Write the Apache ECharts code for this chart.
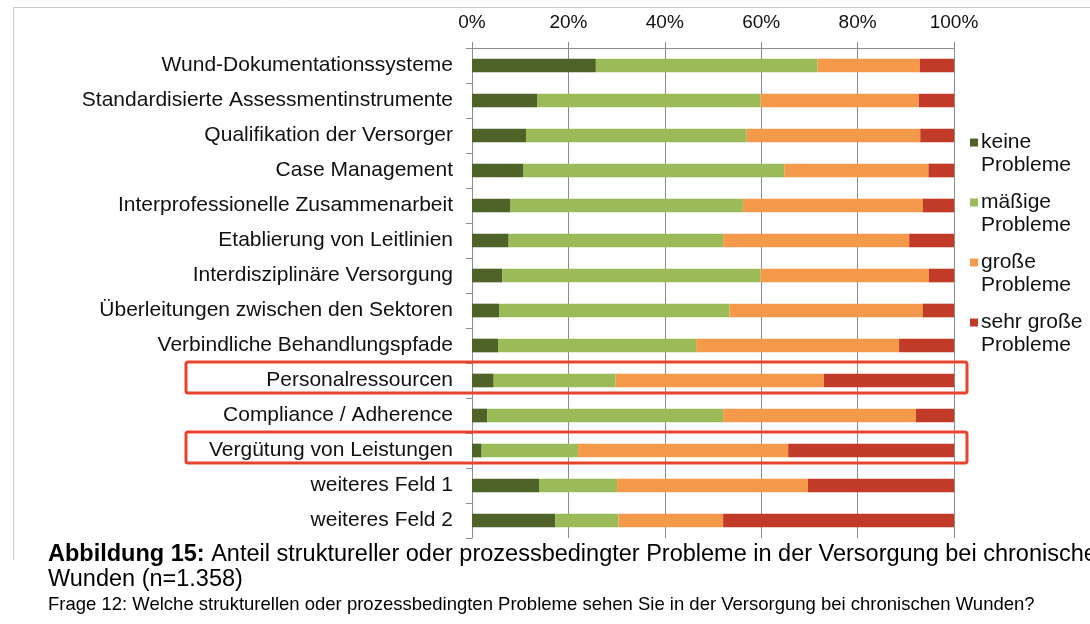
<!DOCTYPE html>
<html>
<head>
<meta charset="utf-8">
<title>Probleme in der Versorgung</title>
<script src="https://cdn.jsdelivr.net/npm/echarts@6/dist/echarts.min.js"></script>
<style>
  html, body { margin: 0; padding: 0; background: #fff; }
  #main { width: 1090px; height: 624px; }
</style>
</head>
<body>
<div id="main"></div>
<script>
// Kategorien (von oben nach unten)
var categories = [
  'Wund-Dokumentationssysteme',
  'Standardisierte Assessmentinstrumente',
  'Qualifikation der Versorger',
  'Case Management',
  'Interprofessionelle Zusammenarbeit',
  'Etablierung von Leitlinien',
  'Interdisziplinäre Versorgung',
  'Überleitungen zwischen den Sektoren',
  'Verbindliche Behandlungspfade',
  'Personalressourcen',
  'Compliance / Adherence',
  'Vergütung von Leistungen',
  'weiteres Feld 1',
  'weiteres Feld 2'
];

var seriesNames = ['keine Probleme', 'mäßige Probleme', 'große Probleme', 'sehr große Probleme'];

// Anteile in %
var keine   = [25.7, 13.6, 11.2, 10.7, 8.0, 7.6, 6.3, 5.6, 5.4, 4.5, 3.2, 2.0, 13.9, 17.3];
var maessig = [46.0, 46.3, 45.8, 54.1, 48.2, 44.5, 53.6, 47.8, 41.1, 25.3, 48.9, 20.0, 16.2, 13.1];
var gross   = [21.2, 32.8, 36.0, 29.9, 37.3, 38.6, 34.9, 40.1, 42.1, 43.2, 40.0, 43.6, 39.6, 21.7];
var sehr    = [7.1, 7.3, 7.0, 5.3, 6.5, 9.3, 5.2, 6.5, 11.4, 27.0, 7.9, 34.4, 30.3, 47.9];

var xTicks = [0, 20, 40, 60, 80, 100];

// markierte Zeilen
var highlighted = ['Personalressourcen', 'Vergütung von Leistungen'];

var colors = ['#4f6228', '#9bbb59', '#f59a4a', '#c23b28'];
var font = '"Liberation Sans", Arial, Helvetica, sans-serif';

var myChart = echarts.init(document.getElementById('main'));

function makeSeries(name, data, i) {
  return {
    name: name,
    type: 'bar',
    stack: 'total',
    barWidth: '39%',
    itemStyle: { color: colors[i] },
    data: data
  };
}

myChart.setOption({
  animation: false,
  textStyle: { fontFamily: font },
  grid: { left: 472, right: 136, top: 48, bottom: 86 },
  legend: {
    orient: 'vertical',
    left: 970,
    top: 108,
    padding: 0,
    itemWidth: 8,
    itemHeight: 8,
    itemGap: -9,
    icon: 'rect',
    data: seriesNames,
    formatter: function (name) {
      return '\n' + name.replace(/ (\S+)$/, '\n$1');
    },
    textStyle: { fontSize: 21, lineHeight: 23, color: '#111', fontFamily: font, padding: [0, 0, 0, -2] }
  },
  xAxis: {
    type: 'value',
    position: 'top',
    min: xTicks[0],
    max: xTicks[xTicks.length - 1],
    interval: xTicks[1] - xTicks[0],
    axisLine: { show: true, lineStyle: { color: '#8c8c8c', width: 1 } },
    axisTick: { show: true, length: 6, lineStyle: { color: '#8c8c8c' } },
    splitLine: { show: true, lineStyle: { color: '#8c8c8c', width: 1 } },
    axisLabel: { formatter: '{value}%', fontSize: 19, color: '#111', margin: 16, fontFamily: font }
  },
  yAxis: {
    type: 'category',
    inverse: true,
    data: categories,
    axisLine: { show: true, lineStyle: { color: '#8c8c8c', width: 1 } },
    axisTick: { show: true, length: 6, lineStyle: { color: '#8c8c8c' } },
    axisLabel: { fontSize: 21, color: '#111', margin: 19, fontFamily: font }
  },
  series: [
    makeSeries(seriesNames[0], keine, 0),
    makeSeries(seriesNames[1], maessig, 1),
    makeSeries(seriesNames[2], gross, 2),
    makeSeries(seriesNames[3], sehr, 3)
  ]
});

// Rahmen, rote Markierungen und Bildunterschrift
var graphics = [
  {
    type: 'polyline',
    shape: { points: [[13.5, 560], [13.5, 7.5], [1095, 7.5]] },
    style: { stroke: '#c8c8c8', lineWidth: 1, fill: null },
    silent: true
  }
];

highlighted.forEach(function (cat) {
  var cy = myChart.convertToPixel({ yAxisIndex: 0 }, cat);
  graphics.push({
    type: 'rect',
    shape: { x: 186, y: cy - 18.5, width: 781, height: 31, r: 2 },
    style: { stroke: '#e8432f', lineWidth: 3, fill: null },
    silent: true,
    z: 100
  });
});

graphics.push({
  type: 'text',
  left: 48,
  top: 542,
  style: {
    text: '{b|Abbildung 15:} Anteil struktureller oder prozessbedingter Probleme in der Versorgung bei chronischen\nWunden (n=1.358)',
    font: '23.5px ' + font,
    fill: '#000',
    lineHeight: 25,
    rich: {
      b: { fontWeight: 'bold', fontSize: 23.5, fontFamily: font, fill: '#000' }
    }
  },
  silent: true
});

graphics.push({
  type: 'text',
  left: 48,
  top: 595,
  style: {
    text: 'Frage 12: Welche strukturellen oder prozessbedingten Probleme sehen Sie in der Versorgung bei chronischen Wunden?',
    font: '18.5px ' + font,
    fill: '#000'
  },
  silent: true
});

myChart.setOption({ graphic: graphics });
</script>
</body>
</html>
